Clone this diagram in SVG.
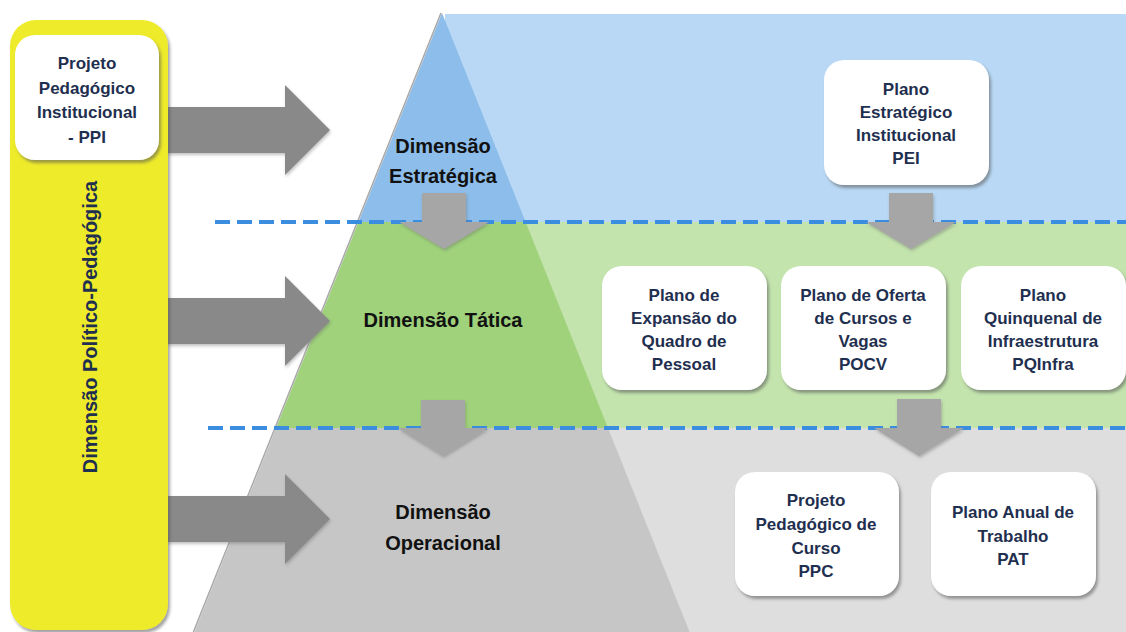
<svg xmlns="http://www.w3.org/2000/svg" width="1126" height="632" viewBox="0 0 1126 632">
<defs>
<filter id="sh" x="-10%" y="-10%" width="130%" height="130%"><feDropShadow dx="2" dy="3" stdDeviation="1.8" flood-color="#555" flood-opacity="0.55"/></filter>
<filter id="ash" x="-10%" y="-10%" width="130%" height="130%"><feDropShadow dx="1" dy="2" stdDeviation="1.5" flood-color="#666" flood-opacity="0.4"/></filter>
<style>
.box{fill:#fff;filter:url(#sh)}
.bt{font-family:"Liberation Sans",Arial,sans-serif;font-weight:bold;font-size:17px;fill:#1f2f4f;text-anchor:middle}
.pt{font-family:"Liberation Sans",Arial,sans-serif;font-weight:bold;font-size:20px;fill:#111;text-anchor:middle}
.ra{fill:#898989;filter:url(#ash)}
.da{fill:#a6a6a6;filter:url(#ash)}
.dash{stroke:#3a8ddf;stroke-width:4;stroke-dasharray:15 7;fill:none}
</style>
</defs>
<rect width="1126" height="632" fill="#fff"/>
<g id="bands">
<rect x="445" y="14" width="681" height="208" fill="#b8d8f5"/>
<rect x="445" y="222" width="681" height="206" fill="#c3e4ad"/>
<rect x="445" y="428" width="681" height="204" fill="#dedede"/>
</g>
<g id="pyramid">
<polygon points="442,13 358.4,222 525.6,222" fill="#8dbdea"/>
<polygon points="358.4,222 525.6,222 608,428 276,428" fill="#9fd27b"/>
<polygon points="276,428 608,428 689.6,632 194.4,632" fill="#c6c6c6"/>
<line x1="441" y1="13" x2="193.4" y2="632" stroke="#a8a8a8" stroke-width="1.5"/>
</g>
<g id="dividers">
<line class="dash" x1="215" y1="222" x2="1126" y2="222"/>
<line class="dash" x1="208" y1="428" x2="1126" y2="428"/>
</g>
<g id="connectors">
<polygon class="ra" points="166,107 285,107 285,85 330,130 285,175 285,153 166,153"/>
<polygon class="ra" points="166,298 285,298 285,276 330,321 285,366 285,344 166,344"/>
<polygon class="ra" points="166,496 285,496 285,474 330,519 285,564 285,542 166,542"/>
<polygon class="da" points="422,193 466,193 466,222 489,222 444,249 399,222 422,222"/>
<polygon class="da" points="421,400 465,400 465,428 488,428 443,456 398,428 421,428"/>
<polygon class="da" points="889,193 933,193 933,222 956,222 911,249 866,222 889,222"/>
<polygon class="da" points="897,399 941,399 941,428 964,428 919,456 874,428 897,428"/>
</g>
<g id="politico">
<rect x="10" y="20" width="158" height="610" rx="26" fill="#eeeb2b" filter="url(#sh)"/>
<text class="bt" transform="translate(97,327) rotate(-90)" style="font-size:20px">Dimensão Político-Pedagógica</text>
</g>
<g id="ppi">
<rect class="box" x="15" y="35" width="144" height="125" rx="20"/>
<text class="bt" x="87" y="69">Projeto</text>
<text class="bt" x="87" y="94">Pedagógico</text>
<text class="bt" x="87" y="118">Institucional</text>
<text class="bt" x="87" y="143">- PPI</text>
</g>
<g id="dim-estrategica">
<text class="pt" x="443" y="153">Dimensão</text>
<text class="pt" x="443" y="183">Estratégica</text>
</g>
<g id="dim-tatica">
<text class="pt" x="443" y="327">Dimensão Tática</text>
</g>
<g id="dim-operacional">
<text class="pt" x="443" y="519">Dimensão</text>
<text class="pt" x="443" y="550">Operacional</text>
</g>
<g id="pei">
<rect class="box" x="824" y="60" width="165" height="125" rx="20"/>
<text class="bt" x="906" y="95">Plano</text>
<text class="bt" x="906" y="118">Estratégico</text>
<text class="bt" x="906" y="141">Institucional</text>
<text class="bt" x="906" y="164">PEI</text>
</g>
<g id="peqp">
<rect class="box" x="602" y="266" width="165" height="124" rx="20"/>
<text class="bt" x="684" y="301">Plano de</text>
<text class="bt" x="684" y="324">Expansão do</text>
<text class="bt" x="684" y="347">Quadro de</text>
<text class="bt" x="684" y="370">Pessoal</text>
</g>
<g id="pocv">
<rect class="box" x="781" y="266" width="165" height="124" rx="20"/>
<text class="bt" x="863" y="301">Plano de Oferta</text>
<text class="bt" x="863" y="324">de Cursos e</text>
<text class="bt" x="863" y="347">Vagas</text>
<text class="bt" x="863" y="370">POCV</text>
</g>
<g id="pqinfra">
<rect class="box" x="961" y="266" width="165" height="124" rx="20"/>
<text class="bt" x="1043" y="301">Plano</text>
<text class="bt" x="1043" y="324">Quinquenal de</text>
<text class="bt" x="1043" y="347">Infraestrutura</text>
<text class="bt" x="1043" y="370">PQInfra</text>
</g>
<g id="ppc">
<rect class="box" x="735" y="472" width="164" height="124" rx="20"/>
<text class="bt" x="816" y="506">Projeto</text>
<text class="bt" x="816" y="530">Pedagógico de</text>
<text class="bt" x="816" y="554">Curso</text>
<text class="bt" x="816" y="577">PPC</text>
</g>
<g id="pat">
<rect class="box" x="931" y="472" width="165" height="124" rx="20"/>
<text class="bt" x="1013" y="518">Plano Anual de</text>
<text class="bt" x="1013" y="542">Trabalho</text>
<text class="bt" x="1013" y="565">PAT</text>
</g>
</svg>
